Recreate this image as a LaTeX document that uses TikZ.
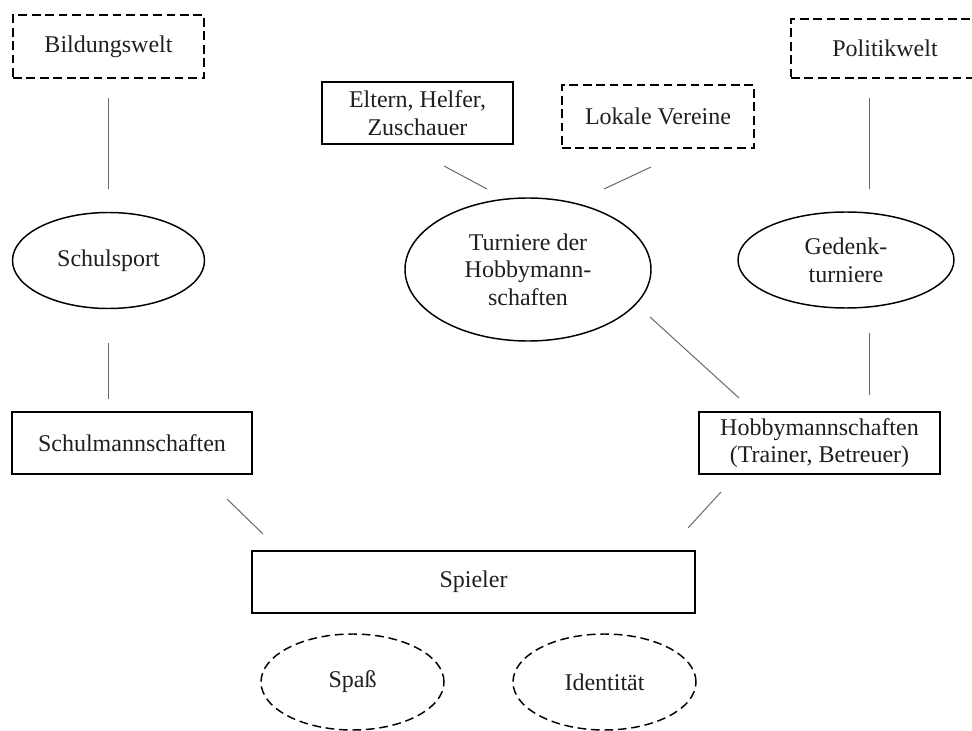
\documentclass[tikz,border=0pt]{standalone}
\usepackage{fontspec}
\setmainfont{Liberation Serif}
\usetikzlibrary{shapes.geometric}

\tikzset{
  sz/.style 2 args={minimum width=#1*0.75pt, minimum height=#2*0.75pt},
  base/.style={draw=black, line width=1.1pt, inner sep=0pt, align=center,
               font=\fontsize{18}{20.7}\selectfont, text=black!88},
  boxnode/.style={base, rectangle},
  dashbox/.style={base, rectangle, dash pattern=on 6.5pt off 3.6pt},
  ovalnode/.style={base, ellipse},
  dashoval/.style={base, ellipse, dash pattern=on 6.5pt off 3.6pt},
  link/.style={draw={rgb,255:red,105;green,105;blue,105}, line width=0.75pt}
}

\begin{document}
\begin{tikzpicture}[x=0.75pt, y=-0.75pt]
\useasboundingbox (0,0) rectangle (972,731);
\clip (0,0) rectangle (972,731);

% left column
\node[dashbox, sz={191}{63}]  (bild)       at (108.5,46.5) {Bildungswelt};
\node[ovalnode, sz={192}{96}] (schulsport) at (108.5,260.5) {Schulsport};
\node[boxnode, sz={240}{62}]  (schulm)     at (132,443) {Schulmannschaften};

% middle column
\node[boxnode, sz={191}{62}]  (eltern)   at (417.5,113) {Eltern, Helfer,\\Zuschauer};
\node[dashbox, sz={192}{63}]  (lokal)    at (658,116.5) {Lokale Vereine};
\node[ovalnode, sz={246}{143}] (turniere) at (528,269.5) {Turniere der\\Hobbymann-\\schaften};

% right column
\node[dashbox, sz={188}{59}]  (politik) at (885,48.5) {Politikwelt};
\node[ovalnode, sz={216}{96}] (gedenk)  at (846,260) {Gedenk-\\turniere};
\node[boxnode, sz={241}{62}]  (hobby)   at (819.5,443) {Hobbymannschaften\\(Trainer, Betreuer)};

% players and their motives
\node[boxnode, sz={443}{62}]  (spieler) at (473.5,582) {Spieler};
\node[dashoval, sz={183}{96}] (spass)   at (352.5,682) {Spaß};
\node[dashoval, sz={183}{96}] (ident)   at (604.5,682) {Identität};

% connector end points (lines stop short of the shapes)
\coordinate (bildS)     at (108,98);
\coordinate (schulN)    at (108,189);
\coordinate (schulS)    at (108,343);
\coordinate (schulmN)   at (108,399);
\coordinate (schulmSE)  at (227,499);
\coordinate (spielerNW) at (263,534);
\coordinate (elternSE)  at (444,166);
\coordinate (turnNW)    at (487,189);
\coordinate (lokalSW)   at (651,167);
\coordinate (turnNE)    at (604,189);
\coordinate (turnSE)    at (650,317);
\coordinate (hobbyNW)   at (739,398);
\coordinate (politikS)  at (869,98);
\coordinate (gedenkN)   at (869,189);
\coordinate (gedenkS)   at (869,333);
\coordinate (hobbyN)    at (869,395);
\coordinate (hobbySW)   at (721,492);
\coordinate (spielerNE) at (688,528);

\draw[link] (bildS) -- (schulN);
\draw[link] (schulS) -- (schulmN);
\draw[link] (schulmSE) -- (spielerNW);
\draw[link] (elternSE) -- (turnNW);
\draw[link] (lokalSW) -- (turnNE);
\draw[link] (turnSE) -- (hobbyNW);
\draw[link] (politikS) -- (gedenkN);
\draw[link] (gedenkS) -- (hobbyN);
\draw[link] (hobbySW) -- (spielerNE);
\end{tikzpicture}
\end{document}
